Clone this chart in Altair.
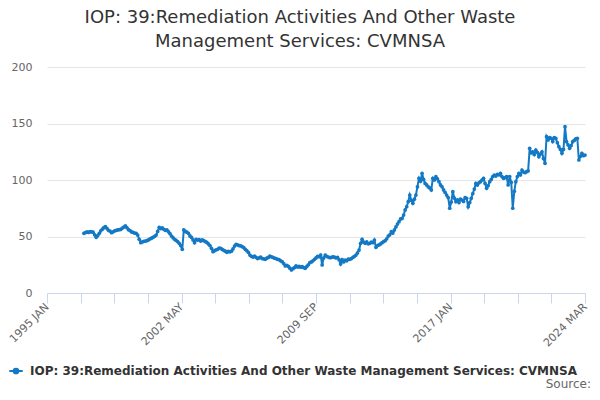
import altair as alt
import pandas as pd

TITLE = ["IOP: 39:Remediation Activities And Other Waste", "Management Services: CVMNSA"]
SERIES = "IOP: 39:Remediation Activities And Other Waste Management Services: CVMNSA"
START = "1997-01"

v1997_2001 = [
    52.8, 53.5, 54.0, 53.6, 54.3, 54.0, 53.8, 51.5, 49.3, 50.8, 52.8, 55.0,
    56.5, 57.8, 58.7, 57.2, 55.5, 54.8, 53.4, 54.2, 55.0, 55.4, 55.8, 56.0,
    56.3, 57.5, 58.4, 59.3, 57.8, 56.0, 55.2, 54.0, 53.6, 53.0, 52.8, 51.3,
    47.5, 44.5, 45.2, 45.8, 46.0, 46.3, 47.0, 47.8, 48.5, 49.3, 50.2, 51.3,
    54.5, 58.1, 57.0, 57.6, 56.4, 55.5, 55.8, 54.3, 52.5, 50.4, 49.0, 47.5,
]
v2002_2006 = [
    46.5, 45.5, 44.0, 42.0, 38.7, 55.8, 54.5, 53.8, 52.8, 50.5, 49.3, 47.0,
    44.5, 47.5, 46.8, 47.2, 46.0, 47.0, 46.3, 45.5, 44.8, 43.4, 42.0, 39.5,
    36.6, 37.5, 38.2, 38.7, 39.8, 39.5, 38.5, 37.8, 37.0, 36.0, 36.8, 36.5,
    37.0, 39.0, 41.5, 43.1, 42.5, 42.0, 41.8, 41.0, 40.2, 38.7, 37.5, 36.0,
    33.6, 32.5, 31.8, 32.6, 31.6, 30.5, 31.0, 31.8, 30.5, 30.2, 29.8, 30.8,
]
v2007_2011 = [
    31.5, 32.7, 32.0, 31.5, 30.8, 30.5, 29.8, 29.5, 28.5, 27.7, 26.0, 23.9,
    24.5, 23.6, 22.0, 20.4, 21.5, 22.5, 23.9, 23.0, 23.5, 22.8, 23.3, 22.5,
    21.8, 23.5, 25.0, 26.8, 27.5, 28.5, 29.8, 31.0, 32.5, 32.0, 33.6, 24.8,
    31.0, 33.6, 32.5, 31.8, 31.2, 31.5, 32.0, 31.8, 31.0, 31.5, 29.5, 25.7,
    29.5, 27.5, 29.2, 28.5, 30.0, 29.8, 30.5, 31.5, 32.5, 33.6, 35.5, 38.0,
]
v2012_2016 = [
    44.0, 47.5, 45.0, 44.0, 45.2, 43.5, 44.0, 45.0, 44.5, 46.9, 40.4, 42.0,
    42.5, 43.4, 44.5, 45.5, 46.3, 48.0, 50.4, 51.5, 54.3, 53.0, 55.8, 58.5,
    61.0, 63.1, 65.5, 66.0, 69.0, 73.5, 76.4, 80.8, 86.7, 82.0, 79.4, 83.0,
    86.7, 94.0, 101.5, 99.0, 105.9, 100.5, 97.0, 95.6, 94.0, 93.0, 91.2, 101.5,
    100.0, 102.9, 101.0, 98.5, 95.6, 94.0, 91.2, 89.0, 86.7, 84.5, 75.0, 80.5,
]
v2017_2021 = [
    89.7, 84.0, 80.8, 82.5, 80.0, 83.0, 82.3, 81.0, 84.5, 83.8, 76.4, 80.0,
    83.8, 88.0, 92.0, 97.0, 95.5, 97.5, 98.5, 100.0, 101.5, 97.0, 92.7, 95.0,
    98.5, 100.5, 103.0, 104.4, 103.5, 105.0, 104.5, 105.9, 103.0, 101.5, 102.0, 103.0,
    95.6, 103.0, 98.0, 75.0, 90.0, 98.5, 103.0, 105.9, 104.5, 108.8, 107.0, 106.5,
    107.4, 108.0, 128.0, 124.0, 125.0, 122.5, 126.5, 124.5, 120.6, 123.0, 125.0, 119.0,
]
v2022_2024 = [
    114.8, 138.3, 135.5, 137.5, 136.9, 134.0, 137.5, 136.9, 133.0, 129.5, 127.0, 123.6,
    127.0, 147.2, 133.9, 131.0, 128.0, 130.5, 133.9, 135.0, 136.5, 136.9, 117.7, 121.0,
    123.6, 121.5, 122.1,
]

tick_labels = ["1995 JAN", "2002 MAY", "2009 SEP", "2017 JAN", "2024 MAR"]
y_ticks = [0, 50, 100, 150, 200]

values = v1997_2001 + v2002_2006 + v2007_2011 + v2012_2016 + v2017_2021 + v2022_2024
dates = pd.date_range(START, periods=len(values), freq="MS")
df = pd.DataFrame({
    "date": dates.strftime("%Y-%m"),
    "m": (dates.year - 1995) * 12 + (dates.month - 1),
    "value": values,
    "series": SERIES,
})

n_ticks = 16
span = 350
tick_vals = [k * span / n_ticks for k in range(n_ticks + 1)]
expr_parts = []
for i, lab in enumerate(tick_labels):
    expr_parts.append(f"abs(datum.value - {tick_vals[i*4]}) < 0.01 ? '{lab}'")
label_expr = " : ".join(expr_parts) + " : ''"

BLUE = "#1479c4"
FONT = "DejaVu Sans"

legend_symbol = "M-1,0L1,0M-0.35,0A0.35,0.35,0,1,1,0.35,0A0.35,0.35,0,1,1,-0.35,0Z"

line = alt.Chart(df).mark_line(
    strokeWidth=2,
    point=alt.OverlayMarkDef(size=14, filled=True, opacity=1),
).encode(
    x=alt.X("m:Q",
            scale=alt.Scale(domain=[0, span], nice=False, zero=False),
            axis=alt.Axis(values=tick_vals, labelExpr=label_expr, title=None,
                          grid=False, domainColor="#ccd6eb", tickColor="#ccd6eb",
                          tickSize=10, labelAngle=-45, labelAlign="right",
                          labelBaseline="middle", labelColor="#666666",
                          labelFontSize=11, labelFont=FONT, labelOverlap=False,
                          labelFlush=False, labelPadding=2)),
    y=alt.Y("value:Q",
            scale=alt.Scale(domain=[0, 200], nice=False),
            axis=alt.Axis(values=y_ticks, title=None, domain=False, ticks=False,
                          gridColor="#e6e6e6", labelColor="#666666",
                          labelFontSize=11, labelFont=FONT, labelPadding=15)),
    color=alt.Color("series:N",
                    scale=alt.Scale(domain=[SERIES], range=[BLUE]),
                    legend=alt.Legend(title=None, orient="none", legendX=-39, legendY=296,
                                      symbolType=legend_symbol, symbolSize=180,
                                      symbolStrokeWidth=2, symbolFillColor=BLUE,
                                      symbolStrokeColor=BLUE,
                                      labelFont=FONT, labelFontSize=12,
                                      labelFontWeight="bold", labelColor="#333333",
                                      labelLimit=0, labelOffset=6, padding=0)),
)

source = alt.Chart(pd.DataFrame({"t": ["Source:"]})).mark_text(
    align="right", baseline="alphabetic", font=FONT, fontSize=12, color="#666666"
).encode(x=alt.value(544), y=alt.value(321), text="t:N")

chart = alt.layer(line, source).properties(
    width=538,
    height=226,
    autosize=alt.AutoSizeParams(type="none"),
    padding={"left": 39, "top": 59, "right": 7, "bottom": 99},
    title=alt.TitleParams(TITLE, anchor="middle", dx=-16, font=FONT, fontSize=18,
                          fontWeight="normal", color="#333333", offset=10,
                          lineHeight=24),
).configure_view(stroke=None)

chart.save("out.html", embed_options={"renderer": "svg", "actions": False})
